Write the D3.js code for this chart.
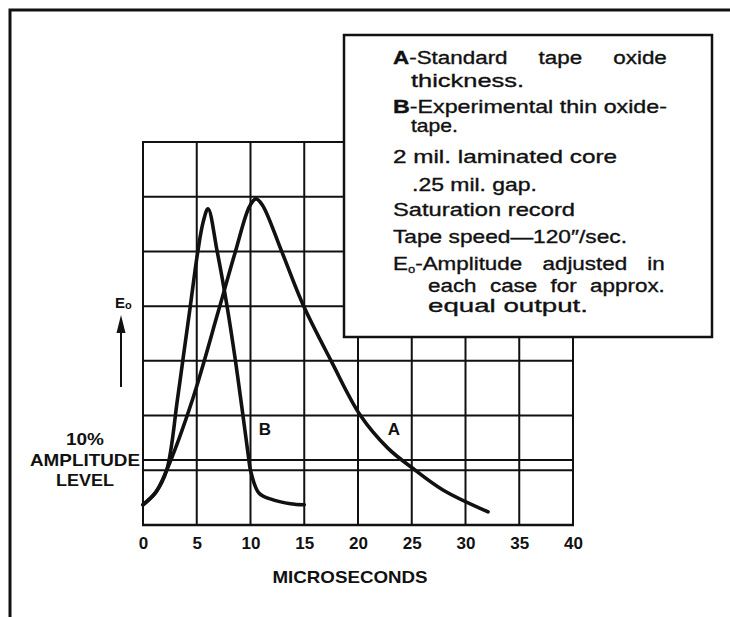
<!DOCTYPE html>
<html>
<head>
<meta charset="utf-8">
<script src="https://cdn.jsdelivr.net/npm/d3@7"></script>
<style>
  body { margin: 0; background: #fff; }
  svg { display: block; }
</style>
</head>
<body>
<div id="plot"></div>
<script>
// time axis, microseconds
const X_TICKS = [0, 5, 10, 15, 20, 25, 30, 35, 40];
// amplitude in grid divisions (0 = bottom line)
const Y_GRID = [0, 1, 2, 3, 4, 5, 6, 7];
const LEVEL_10 = 1.19;

// curve A - standard tape oxide
const A_T = [0, 1.2, 2.2, 4.6, 7.0, 8.6, 9.9, 10.5, 11.1, 12.9, 14.9, 17.5, 20.2, 22.8, 25.0, 27.9, 32.1];
const A_V = [0.37, 0.6, 1.0, 2.29, 3.9, 5.0, 5.82, 5.96, 5.85, 5.0, 4.02, 3.0, 2.01, 1.4, 1.05, 0.64, 0.24];

// curve B - thin oxide tape
const B_T = [0, 1.2, 2.2, 3.2, 3.7, 4.4, 5.1, 5.6, 6.05, 6.9, 7.8, 8.6, 9.3, 9.85, 10.0, 10.8, 12.1, 13.7, 15.0];
const B_V = [0.37, 0.6, 1.0, 2.29, 3.0, 4.0, 5.0, 5.54, 5.78, 5.0, 4.02, 3.0, 2.0, 1.19, 1.0, 0.58, 0.46, 0.39, 0.37];

const LEGEND_LINES = [
  "A-Standard tape oxide",
  "thickness.",
  "B-Experimental thin oxide-",
  "tape.",
  "2 mil. laminated core",
  ".25 mil. gap.",
  "Saturation record",
  "Tape speed\u2014120\u2033/sec.",
  "E\u2092-Amplitude adjusted in",
  "each case for approx.",
  "equal output."
];

const X_LABEL = "MICROSECONDS";
const LEVEL_LABEL = ["10%", "AMPLITUDE", "LEVEL"];

// legend layout: [x start, baseline, width, justify]
const LEGEND_LAYOUT = [
  [393, 64, 274, true],
  [411, 87, 113, false],
  [393, 113, 274, false],
  [411, 132, 47, false],
  [393, 163, 224, false],
  [412, 191, 125, false],
  [393, 216, 182, false],
  [393, 243, 234, false],
  [393, 270, 272, true],
  [428, 292, 237, true],
  [428, 312, 160, false]
];
const GLYPH_STRETCH = 1.18;

const width = 730, height = 617;
const svg = d3.select("#plot").append("svg")
  .attr("width", width)
  .attr("height", height)
  .style("font-family", "'Liberation Sans', Arial, sans-serif");

svg.append("rect").attr("width", width).attr("height", height).attr("fill", "#fff");

const x = d3.scaleLinear().domain([0, 40]).range([143, 573]);
const y = d3.scaleLinear().domain([0, 7]).range([525, 142]);

const ink = "#111";

// outer frame (top + left only)
svg.append("path")
  .attr("d", "M10,617V10H730")
  .attr("fill", "none")
  .attr("stroke", ink)
  .attr("stroke-width", 3);

// grid
const grid = svg.append("g").attr("stroke", ink).attr("stroke-width", 2);
grid.selectAll(".vline")
  .data(X_TICKS)
  .enter().append("line")
    .attr("x1", d => x(d)).attr("x2", d => x(d))
    .attr("y1", y(7)).attr("y2", y(0));
grid.selectAll(".hline")
  .data(Y_GRID.concat([LEVEL_10]))
  .enter().append("line")
    .attr("x1", x(0) - 1).attr("x2", x(40) + 1)
    .attr("y1", d => y(d)).attr("y2", d => y(d))
    .attr("stroke-width", d => d === 0 ? 2.6 : 2);

// x axis labels
const xAxis = svg.append("g")
  .attr("transform", "translate(0," + y(0) + ")")
  .call(d3.axisBottom(x).tickValues(X_TICKS).tickSize(0).tickPadding(12));
xAxis.select(".domain").remove();
xAxis.selectAll("text")
  .attr("fill", ink)
  .style("font-size", "17px")
  .style("font-weight", "bold")
  .style("font-family", "'Liberation Sans', Arial, sans-serif");

svg.append("text")
  .attr("x", 350).attr("y", 583)
  .attr("text-anchor", "middle")
  .attr("fill", ink)
  .style("font-size", "17px").style("font-weight", "bold")
  .attr("textLength", 155).attr("lengthAdjust", "spacingAndGlyphs")
  .text(X_LABEL);

// curves
const line = d3.line()
  .x(d => x(d[0]))
  .y(d => y(d[1]))
  .curve(d3.curveCatmullRom.alpha(0.5));

[[A_T, A_V], [B_T, B_V]].forEach(function(c) {
  svg.append("path")
    .datum(d3.zip(c[0], c[1]))
    .attr("d", line)
    .attr("fill", "none")
    .attr("stroke", ink)
    .attr("stroke-width", 3.6)
    .attr("stroke-linecap", "round")
    .attr("stroke-linejoin", "round");
});

// curve letters
svg.append("text").attr("x", 265).attr("y", 435).attr("text-anchor", "middle")
  .attr("fill", ink).style("font-size", "17px").style("font-weight", "bold").text("B");
svg.append("text").attr("x", 394).attr("y", 435).attr("text-anchor", "middle")
  .attr("fill", ink).style("font-size", "17px").style("font-weight", "bold").text("A");

// 10% amplitude level label
const lvlY = [445, 466, 486];
const lvlW = [38, 110, 58];
LEVEL_LABEL.forEach(function(s, i) {
  svg.append("text")
    .attr("x", 85).attr("y", lvlY[i])
    .attr("text-anchor", "middle")
    .attr("fill", ink)
    .style("font-size", "16.5px").style("font-weight", "bold")
    .attr("textLength", lvlW[i]).attr("lengthAdjust", "spacingAndGlyphs")
    .text(s);
});

// E0 with arrow
const e0 = svg.append("text").attr("x", 115).attr("y", 308)
  .attr("fill", ink).style("font-size", "15px").style("font-weight", "bold");
e0.append("tspan").text("E");
e0.append("tspan").attr("dy", 1).style("font-size", "11px").text("o");
svg.append("line")
  .attr("x1", 121).attr("x2", 121).attr("y1", 387).attr("y2", 328)
  .attr("stroke", ink).attr("stroke-width", 2);
svg.append("path")
  .attr("d", "M121,315L116.5,333L125.5,333Z")
  .attr("fill", ink);

// legend box
svg.append("rect")
  .attr("x", 344).attr("y", 35)
  .attr("width", 368).attr("height", 302)
  .attr("fill", "#fff")
  .attr("stroke", ink)
  .attr("stroke-width", 2.5);

const legend = svg.append("g")
  .attr("fill", ink)
  .attr("stroke", ink)
  .attr("stroke-width", 0.35)
  .style("font-family", "'Liberation Sans', Arial, sans-serif")
  .style("font-size", "19px");

LEGEND_LINES.forEach(function(s, i) {
  const lay = LEGEND_LAYOUT[i];
  const t = legend.append("text");
  if (/^[AB]-/.test(s)) {
    t.append("tspan").style("font-weight", "bold").text(s[0]);
    t.append("tspan").text(s.slice(1));
  } else if (s[0] === "E" && s[1] === "\u2092") {
    t.append("tspan").text("E");
    t.append("tspan").attr("dy", 3).style("font-size", "11px").text("o");
    t.append("tspan").attr("dy", -3).text(s.slice(2));
  } else {
    t.text(s);
  }
  const len = t.node().getComputedTextLength();
  if (lay[3]) {
    // justified: wide glyphs plus stretched word gaps
    const spaces = (s.match(/ /g) || []).length;
    t.attr("transform", "translate(" + lay[0] + "," + lay[1] + ") scale(" + GLYPH_STRETCH + ",1)")
      .style("word-spacing", ((lay[2] / GLYPH_STRETCH - len) / spaces) + "px");
  } else {
    t.attr("x", lay[0]).attr("y", lay[1])
      .attr("textLength", lay[2]).attr("lengthAdjust", "spacingAndGlyphs");
  }
});
</script>
</body>
</html>
